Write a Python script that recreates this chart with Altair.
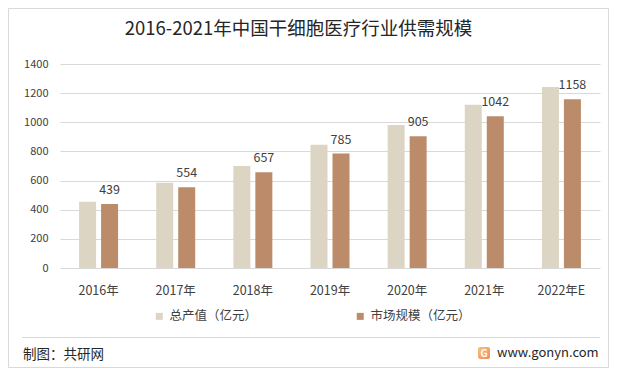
import altair as alt
import pandas as pd

years = ["2016年", "2017年", "2018年", "2019年", "2020年", "2021年", "2022年E"]
output_value = [455, 585, 700, 845, 982, 1120, 1243]
market_size = [439, 554, 657, 785, 905, 1042, 1158]
series = ["总产值（亿元）", "市场规模（亿元）"]
colors = ["#DDD5C4", "#BC8C6A"]
y_ticks = [0, 200, 400, 600, 800, 1000, 1200, 1400]

title_text = "2016-2021年中国干细胞医疗行业供需规模"
source_text = "制图：共研网"
site_text = "www.gonyn.com"

FONT = "Noto Sans CJK SC"

rows = []
for y, a, b in zip(years, output_value, market_size):
    rows.append({"year": y, "series": series[0], "value": a})
    rows.append({"year": y, "series": series[1], "value": b})
df = pd.DataFrame(rows)

W, H = 540, 204

x_enc = alt.X("year:N", sort=years,
              scale=alt.Scale(paddingInner=0, paddingOuter=0),
              axis=alt.Axis(title=None, labelAngle=0, ticks=False, tickSize=0,
                            domain=False, labelPadding=16, labelFontSize=12.5,
                            labelColor="#404040", labelFont=FONT, grid=False))
xoff = alt.XOffset("series:N", sort=series,
                   scale=alt.Scale(domain=series, paddingInner=0.227, paddingOuter=0.867))
y_axis = alt.Axis(title=None, values=y_ticks, tickCount=8, ticks=False, domain=False,
                  format="d", labelOverlap=False,
                  gridColor="#D9D9D9", gridWidth=1, labelPadding=12,
                  labelFontSize=11, labelColor="#404040", labelFont=FONT)
y_enc = alt.Y("value:Q", scale=alt.Scale(domain=[0, 1400], nice=False), axis=y_axis)

bars = alt.Chart(df).mark_bar().encode(
    x=x_enc,
    xOffset=xoff,
    y=y_enc,
    color=alt.Color("series:N", sort=series,
                    scale=alt.Scale(domain=series, range=colors),
                    legend=alt.Legend(title=None, orient="none", direction="horizontal",
                                      legendX=93, legendY=246, symbolType="square",
                                      symbolSize=49, symbolStrokeWidth=0,
                                      labelFontSize=12.5, labelColor="#404040",
                                      labelFont=FONT, labelOffset=4,
                                      columnPadding=96, padding=0)),
)

labels = alt.Chart(df[df["series"] == series[1]]).mark_text(
    baseline="middle", dy=-14, fontSize=12.5, color="#404040", font=FONT
).encode(
    x=x_enc,
    xOffset=xoff,
    y=y_enc,
    text="value:Q",
)

one = alt.Data(values=[{"a": 1}])

border = alt.Chart(one).mark_rect(filled=False, stroke="#D9D9D9", strokeWidth=1).encode(
    x=alt.value(-51.5), x2=alt.value(548.5), y=alt.value(-55.5), y2=alt.value(303.5))

title = alt.Chart(one).mark_text(align="center", baseline="middle", fontSize=18.5,
                                 color="#262626", font=FONT, text=title_text).encode(
    x=alt.value(238.5), y=alt.value(-35))

sep = alt.Chart(one).mark_rule(color="#D9D9D9", strokeWidth=1).encode(
    x=alt.value(-38), x2=alt.value(540), y=alt.value(273.5))

src = alt.Chart(one).mark_text(align="left", baseline="middle", fontSize=13.5,
                               color="#262626", font=FONT, text=source_text).encode(
    x=alt.value(-37), y=alt.value(291))

site = alt.Chart(one).mark_text(align="left", baseline="middle", fontSize=13,
                                color="#262626", font=FONT, text=site_text).encode(
    x=alt.value(437), y=alt.value(289))

logo = alt.Chart(one).mark_rect(
    cornerRadius=2,
    color=alt.Gradient(gradient="linear",
                       stops=[alt.GradientStop(color="#F9C27E", offset=0),
                              alt.GradientStop(color="#F08A5D", offset=1)],
                       x1=0, x2=1, y1=0, y2=1)
).encode(x=alt.value(418), x2=alt.value(430), y=alt.value(283), y2=alt.value(295))

logo_g = alt.Chart(one).mark_text(align="center", baseline="middle", fontSize=10,
                                  fontWeight="bold", color="white", font=FONT, text="G").encode(
    x=alt.value(424), y=alt.value(289.5))

chart = alt.layer(border, bars, labels, title, sep, src, logo, logo_g, site).properties(
    width=W, height=H,
    autosize=alt.AutoSizeParams(type="none"),
    padding={"left": 52, "top": 56, "right": 9, "bottom": 100},
    background="white",
).configure_view(stroke=None)

chart.save("out.html", embed_options={"renderer": "svg", "actions": False})
